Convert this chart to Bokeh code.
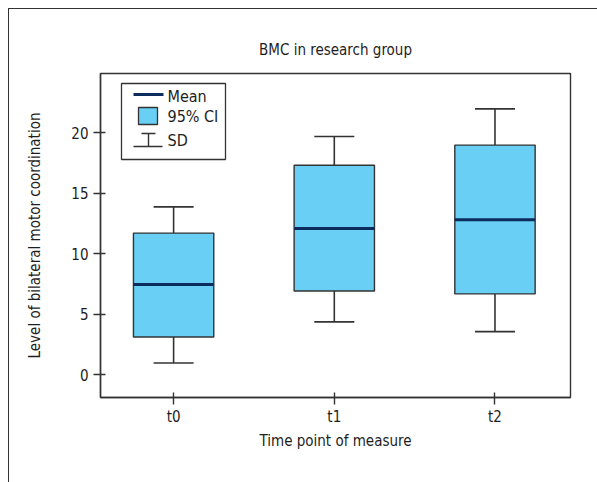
from bokeh.plotting import figure
from bokeh.models import (Range1d, FixedTicker, Whisker, TeeHead, ColumnDataSource,
                          Label, BoxAnnotation, PolyAnnotation, InlineStyleSheet)
from bokeh.embed import file_html
from bokeh.resources import INLINE

# ---- data ----
categories = ["t0", "t1", "t2"]
mean_vals = [7.46, 12.08, 12.80]
ci_low = [3.13, 6.93, 6.69]
ci_high = [11.71, 17.31, 18.97]
sd_low = [0.99, 4.38, 3.58]
sd_high = [13.87, 19.68, 21.96]
y_ticks = [0, 5, 10, 15, 20]

FONT = "DejaVu Sans Condensed"
FS = "15px"
BLUE = "#69CFF4"
NAVY = "#0D2C5E"
LINE = "#333333"
TXT = "#1e1e1e"

xpos = list(range(len(categories)))
src = ColumnDataSource(dict(x=xpos, cat=categories, mean=mean_vals, lo=ci_low, hi=ci_high,
                            sdl=sd_low, sdh=sd_high))

p = figure(width=597, height=482, output_backend="svg", toolbar_location=None,
           x_range=Range1d(-0.455, 2.47), y_range=Range1d(-1.86, 24.88),
           min_border_left=100, min_border_right=27, min_border_top=73, min_border_bottom=85,
           title="BMC in research group")
p.background_fill_color = "white"
p.border_fill_color = "white"
p.outline_line_color = LINE
p.outline_line_width = 1.4
p.grid.visible = False

# outer page border (left & top only), as in the source figure
p.stylesheets = [InlineStyleSheet(css="""
:host { position: relative; }
:host::after {
  content: ""; position: absolute; left: 8px; top: 8px;
  width: calc(100% - 8px); height: calc(100% - 8px);
  border-left: 1.2px solid #333333; border-top: 1.2px solid #333333;
  box-sizing: border-box; pointer-events: none;
}
""")]

p.title.align = "center"
p.title.text_font = FONT
p.title.text_font_size = FS
p.title.text_font_style = "normal"
p.title.text_color = TXT
p.title.standoff = 29

for ax in (p.xaxis[0], p.yaxis[0]):
    ax.axis_line_color = LINE
    ax.axis_line_width = 1.4
    ax.major_tick_line_color = LINE
    ax.major_tick_line_width = 1.4
    ax.major_tick_in = 5
    ax.major_tick_out = 7
    ax.minor_tick_line_color = None
    ax.major_label_text_font = FONT
    ax.major_label_text_font_size = FS
    ax.major_label_text_color = TXT
    ax.axis_label_text_font = FONT
    ax.axis_label_text_font_size = FS
    ax.axis_label_text_font_style = "normal"
    ax.axis_label_text_color = TXT

p.xaxis.ticker = FixedTicker(ticks=xpos)
p.xaxis.major_label_overrides = {i: c for i, c in zip(xpos, categories)}
p.xaxis.major_label_standoff = 3
p.xaxis.axis_label = "Time point of measure"
p.xaxis.axis_label_standoff = 3
p.yaxis.ticker = FixedTicker(ticks=y_ticks)
p.yaxis.major_label_standoff = 5
p.yaxis.axis_label = "Level of bilateral motor coordination"
p.yaxis.axis_label_standoff = 24

w = Whisker(source=src, base="x", lower="sdl", upper="sdh", dimension="height",
            line_color=LINE, line_width=1.6,
            lower_head=TeeHead(size=40, line_color=LINE, line_width=1.6),
            upper_head=TeeHead(size=40, line_color=LINE, line_width=1.6),
            level="underlay")
p.add_layout(w)

p.vbar(x="x", width=0.5, bottom="lo", top="hi", source=src,
       fill_color=BLUE, line_color=LINE, line_width=1.4)
p.rect(x="x", y="mean", width=0.5, height=3, height_units="screen", source=src,
       fill_color=NAVY, line_color=None)

# ---- legend (drawn in canvas units) ----
def cbox(l, r, t, b, fill, lw=1.3):
    return BoxAnnotation(left=l, right=r, top=t, bottom=b,
                         left_units="canvas", right_units="canvas",
                         top_units="canvas", bottom_units="canvas",
                         fill_color=fill, fill_alpha=1.0,
                         line_color=LINE, line_alpha=1.0, line_width=lw, level="overlay")

def cline(xs, ys, color, lw):
    return PolyAnnotation(xs=xs, ys=ys, xs_units="canvas", ys_units="canvas",
                          fill_alpha=0.0, line_color=color, line_alpha=1.0,
                          line_width=lw, level="overlay")

p.add_layout(cbox(121, 225, 83, 159, "white"))
p.add_layout(cline([133, 163], [94, 94], NAVY, 3))
p.add_layout(cbox(138, 157, 107, 124, BLUE))
p.add_layout(cline([141, 155], [133, 133], LINE, 1.4))
p.add_layout(cline([148, 148], [133, 146], LINE, 1.4))
p.add_layout(cline([133, 162], [146, 146], LINE, 1.4))
for txt, yy in zip(["Mean", "95% CI", "SD"], [96, 115.5, 140]):
    p.add_layout(Label(x=167, y=yy, x_units="canvas", y_units="canvas", text=txt,
                       text_font=FONT, text_font_size="16px", text_color=TXT,
                       text_baseline="middle", level="overlay"))

open("out.html", "w").write(file_html(p, INLINE))
